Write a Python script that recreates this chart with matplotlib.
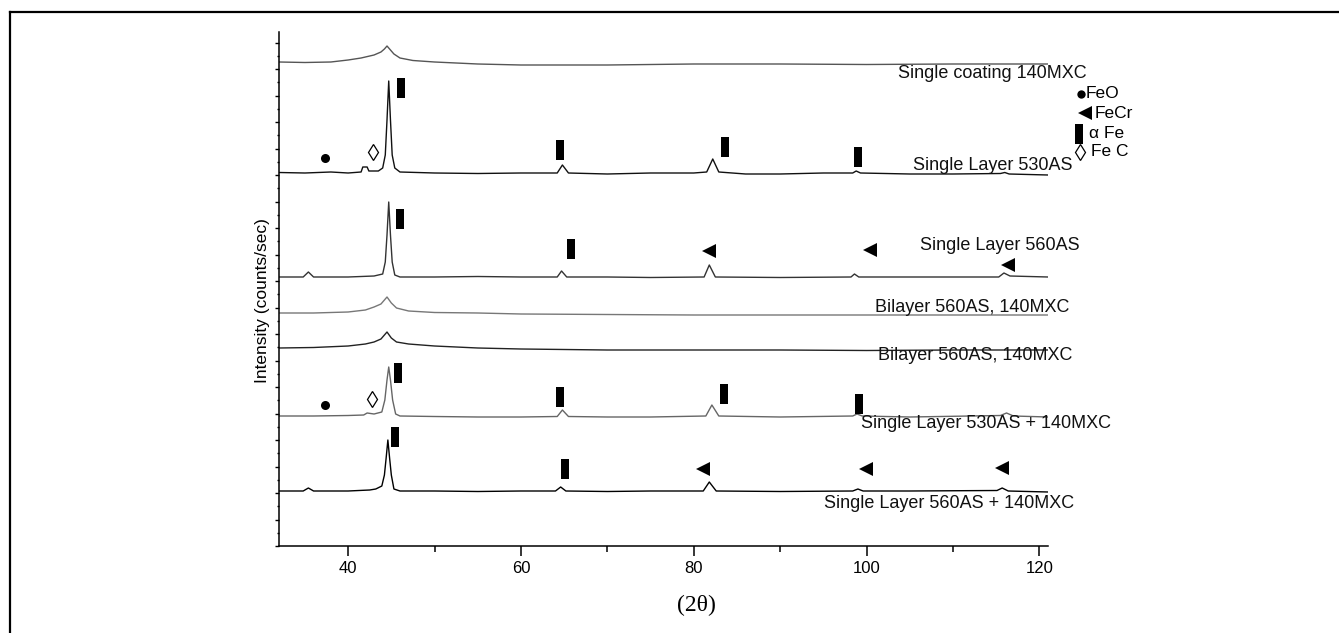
import matplotlib
matplotlib.use("Agg")
import matplotlib.pyplot as plt
from matplotlib.lines import Line2D
from matplotlib.ticker import MultipleLocator, NullFormatter

plt.rcParams["font.family"] = ["Liberation Sans", "DejaVu Sans"]

# XRD patterns, 2-theta (deg) vs intensity (arbitrary counts, traces stacked)
TT_140MXC = [32, 35, 38, 40, 41.5, 43, 43.8, 44.2, 44.5, 44.9, 45.3, 46, 47.5, 50, 55, 60, 70, 80, 90, 100, 110, 121]
I_140MXC = [4840, 4835, 4840, 4860, 4880, 4910, 4940, 4970, 5000, 4960, 4920, 4880, 4855, 4840, 4820, 4810, 4810, 4820, 4820, 4815, 4820, 4820]

TT_530 = [32, 35, 38, 40, 41.5, 41.7, 42.2, 42.4, 43.5, 44.0, 44.3, 44.5, 44.7, 44.9, 45.1, 45.4, 46, 50, 55, 60,
          64.2, 64.8, 65.5, 70, 75, 80, 81.5, 82.2, 82.9, 86, 90, 95, 98.4, 98.8, 99.3, 105, 110, 115.5, 116, 116.5, 121]
I_530 = [3735, 3730, 3740, 3730, 3740, 3790, 3790, 3750, 3750, 3780, 3910, 4260, 4650, 4260, 3910, 3780, 3740, 3730, 3725, 3730,
         3730, 3810, 3730, 3720, 3730, 3730, 3740, 3870, 3740, 3720, 3720, 3730, 3730, 3750, 3730, 3720, 3720, 3725, 3735, 3720, 3710]

TT_560 = [32, 34.8, 35.4, 36, 40, 43, 44.0, 44.3, 44.5, 44.7, 44.9, 45.1, 45.4, 46, 50, 55, 60, 64.2, 64.7, 65.3,
          70, 75, 81.2, 81.8, 82.5, 90, 98.2, 98.6, 99.1, 105, 115.3, 115.9, 116.6, 121]
I_560 = [2690, 2690, 2740, 2690, 2690, 2700, 2720, 2840, 3110, 3440, 3110, 2840, 2710, 2690, 2690, 2695, 2690, 2690, 2750, 2690,
         2690, 2685, 2690, 2810, 2690, 2685, 2690, 2720, 2690, 2690, 2690, 2730, 2700, 2690]

TT_BI_A = [32, 36, 40, 42, 43, 43.8, 44.5, 45.0, 45.6, 47, 50, 55, 60, 70, 80, 90, 100, 110, 121]
I_BI_A = [2330, 2330, 2340, 2360, 2390, 2420, 2490, 2430, 2380, 2350, 2335, 2330, 2320, 2315, 2310, 2310, 2310, 2310, 2310]

TT_BI_B = [32, 36, 40, 42, 43, 43.8, 44.5, 45.0, 45.6, 47, 50, 55, 60, 70, 80, 90, 100, 110, 121]
I_BI_B = [1980, 1985, 2000, 2020, 2040, 2070, 2140, 2080, 2040, 2020, 2000, 1980, 1970, 1960, 1960, 1960, 1955, 1960, 1960]

TT_530M = [32, 36, 40, 41.8, 42.2, 43, 43.9, 44.25, 44.5, 44.7, 44.9, 45.15, 45.5, 46, 50, 55, 60, 64.2, 64.8, 65.5,
           70, 75, 81.4, 82.1, 82.9, 90, 98.4, 98.9, 99.5, 105, 115.5, 116.2, 117, 121]
I_530M = [1300, 1300, 1305, 1310, 1330, 1320, 1340, 1460, 1660, 1790, 1660, 1460, 1320, 1300, 1295, 1290, 1290, 1295, 1360, 1295,
          1290, 1290, 1300, 1410, 1300, 1290, 1300, 1320, 1300, 1290, 1305, 1330, 1300, 1290]

TT_560M = [32, 34.8, 35.4, 36, 40, 42.5, 43.2, 43.9, 44.2, 44.4, 44.6, 44.8, 45.0, 45.3, 46, 50, 55, 60, 64.0, 64.6, 65.2,
           70, 75, 81.1, 81.8, 82.6, 90, 98.4, 99, 99.6, 105, 115.1, 115.7, 116.4, 121]
I_560M = [550, 550, 580, 550, 550, 560, 570, 600, 710, 880, 1060, 880, 710, 570, 550, 550, 545, 550, 550, 590, 550,
          545, 550, 550, 640, 550, 545, 550, 570, 550, 550, 555, 580, 550, 540]

SERIES = [
    (TT_140MXC, I_140MXC, "#555555"),
    (TT_530, I_530, "#111111"),
    (TT_560, I_560, "#333333"),
    (TT_BI_A, I_BI_A, "#777777"),
    (TT_BI_B, I_BI_B, "#222222"),
    (TT_530M, I_530M, "#666666"),
    (TT_560M, I_560M, "#000000"),
]

LABELS = ["Single coating 140MXC", "Single Layer 530AS", "Single Layer 560AS", "Bilayer 560AS, 140MXC",
          "Bilayer 560AS, 140MXC", "Single Layer 530AS + 140MXC", "Single Layer 560AS + 140MXC"]
LABEL_X = [114.5, 114.6, 115.4, 112.2, 112.6, 113.85, 109.5]
LABEL_Y = [4720, 3800, 3000, 2390, 1910, 1230, 430]

# phase markers
AFE_X = [46.16, 64.5, 83.56, 99.05, 46.0, 65.8, 45.76, 64.5, 83.5, 99.1, 45.47, 65.1]
AFE_Y = [4580, 3960, 3990, 3890, 3270, 2970, 1730, 1490, 1525, 1425, 1090, 770]
FECR_X = [81.8, 100.4, 116.4, 81.1, 99.9, 115.7]
FECR_Y = [2950, 2960, 2810, 770, 770, 780]
FEO_X = [37.3, 37.3]
FEO_Y = [3880, 1410]
FEC_X = [42.9, 42.75]
FEC_Y = [3940, 1470]

BAR = [(-0.19, -0.5), (0.19, -0.5), (0.19, 0.5), (-0.19, 0.5), (-0.19, -0.5)]

fig = plt.figure(figsize=(13.39, 6.33), dpi=100)
ax = fig.add_axes([279 / 1339, 87 / 633, 769 / 1339, 514 / 633])

for tt, inten, col in SERIES:
    ax.plot(tt, inten, color=col, lw=1.0)

for lab, lx, ly in zip(LABELS, LABEL_X, LABEL_Y):
    ax.text(lx, ly, lab, ha="center", va="center", fontsize=13, color="#111111")

ax.plot(AFE_X, AFE_Y, ls="none", marker=BAR, ms=15, color="black", mew=0)
ax.plot(FECR_X, FECR_Y, ls="none", marker="<", ms=9.5, color="black", mew=0)
ax.plot(FEO_X, FEO_Y, ls="none", marker="o", ms=6.5, color="black", mew=0)
ax.plot(FEC_X, FEC_Y, ls="none", marker="d", ms=8.5, mfc="white", mec="black", mew=0.9)

# key on the right
ax.plot([124.83], [4520], marker="o", ms=6, color="black", mew=0, clip_on=False)
ax.plot([125.3], [4330], marker="<", ms=9.5, color="black", mew=0, clip_on=False)
ax.plot([124.6], [4120], marker=BAR, ms=14.5, color="black", mew=0, clip_on=False)
ax.plot([124.7], [3940], marker="d", ms=8.5, mfc="white", mec="black", mew=0.9, clip_on=False)
for kx, ky, kt in [(125.4, 4520, "FeO"), (126.45, 4330, "FeCr"), (125.75, 4120, "α Fe"), (126.0, 3940, "Fe C")]:
    ax.text(kx, ky, kt, ha="left", va="center", fontsize=12.5, clip_on=False)

ax.set_xlim(32, 121)
ax.set_ylim(0, 5140)
ax.xaxis.set_major_locator(MultipleLocator(20))
ax.xaxis.set_minor_locator(MultipleLocator(10))
ax.yaxis.set_major_locator(MultipleLocator(265))
ax.yaxis.set_minor_locator(MultipleLocator(132.5))
ax.yaxis.set_major_formatter(NullFormatter())
ax.tick_params(axis="x", which="major", length=7, width=1.1, labelsize=12, pad=4)
ax.tick_params(axis="x", which="minor", length=4.5, width=1.1)
ax.tick_params(axis="y", which="major", length=3, width=1)
ax.tick_params(axis="y", which="minor", length=1.5, width=1)
for s in ["top", "right"]:
    ax.spines[s].set_visible(False)
for s in ["left", "bottom"]:
    ax.spines[s].set_linewidth(1.1)

fig.text(262 / 1339, 1 - 301 / 633, "Intensity (counts/sec)", rotation=90, ha="center", va="center", fontsize=12.5)
fig.text(696 / 1339, 1 - 605 / 633, "(2θ)", ha="center", va="center", fontsize=17, family="Liberation Serif")

# page frame (top and left edge only)
fig.add_artist(Line2D([10 / 1339, 1], [1 - 12 / 633, 1 - 12 / 633], transform=fig.transFigure, color="black", lw=1.6))
fig.add_artist(Line2D([10 / 1339, 10 / 1339], [0, 1 - 12 / 633], transform=fig.transFigure, color="black", lw=1.6))

fig.savefig("out.png", dpi=100)
